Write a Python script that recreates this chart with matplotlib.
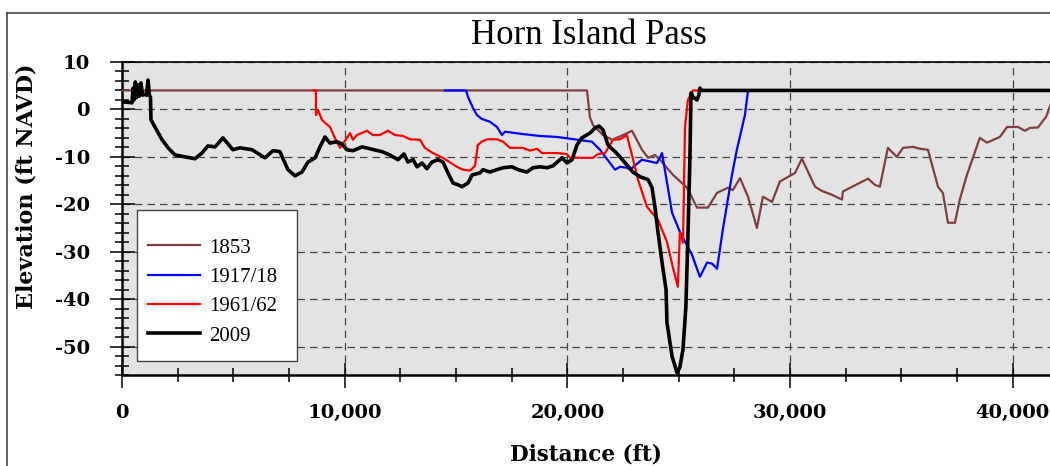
"""Horn Island Pass profile comparison, 1853 to 2009."""

import matplotlib

matplotlib.use("Agg")
import matplotlib.pyplot as plt
import numpy as np
from matplotlib.lines import Line2D
from matplotlib.patches import Rectangle
from matplotlib.ticker import FuncFormatter, MultipleLocator

# (distance ft, elevation ft NAVD)
SURVEY_1853 = [
    (0, 4), (20880, 4), (21010, -1.6), (21150, -3.3), (21600, -5.4), (22000, -6.4),
    (22500, -5.4), (22900, -4.5), (23350, -8.5), (23620, -10.2), (23930, -9.6),
    (24160, -10.6), (24740, -13.8), (25370, -16.5), (25820, -20.7), (26310, -20.7),
    (26720, -17.6), (27210, -16.5), (27430, -17), (27750, -14.5), (28110, -18.4),
    (28510, -25), (28780, -18.4), (29190, -19.5), (29540, -15.2), (30220, -13.4),
    (30530, -10.4), (31120, -16.3), (31430, -17.2), (31880, -18), (32330, -19),
    (32370, -17.3), (33500, -14.6), (33810, -15.9), (34030, -16.3), (34390, -8.1),
    (34790, -10), (35070, -8.1), (35520, -7.9), (35830, -8.3), (36190, -8.5),
    (36640, -16.3), (36860, -17.6), (37090, -23.9), (37400, -23.9), (37620, -19),
    (37940, -13.8), (38520, -6), (38840, -7), (39420, -5.8), (39740, -3.7),
    (40230, -3.7), (40540, -4.5), (40770, -3.9), (41130, -3.8), (41500, -1.5),
    (41700, 1),
]
SURVEY_1917 = [
    (14500, 4), (15450, 4), (15540, 2.6), (15760, 0.3), (15940, -1.2), (16160, -2),
    (16520, -2.6), (16840, -3.7), (17060, -5.4), (17200, -4.7), (18000, -5.2),
    (18770, -5.6), (19530, -5.8), (20470, -6.4), (21100, -6.8), (21460, -8.5),
    (22140, -12.7), (22360, -12.1), (22670, -12.3), (22810, -12.7), (23350, -10.6),
    (24020, -11.3), (24250, -9.2), (24700, -21.8), (25050, -25.8), (25590, -30.6),
    (25950, -35.3), (26270, -32.3), (26490, -32.5), (26720, -33.6), (26990, -25),
    (27390, -13.8), (27610, -8.5), (27970, -1.2), (28110, 4), (30000, 4),
]
SURVEY_1961 = [
    (8580, 4), (8710, 4), (8710, -1.2), (8800, -0.1), (8980, -2.2), (9110, -2.8),
    (9340, -3.7), (9560, -6), (9790, -8.1), (10100, -6), (10240, -5), (10370, -6.4),
    (10550, -5.4), (11000, -4.5), (11270, -5.4), (11580, -5.4), (11940, -4.5),
    (12260, -5.4), (12620, -5.6), (12930, -6.3), (13380, -6.4), (13600, -8.1),
    (13960, -9.2), (14410, -10.2), (15040, -12.1), (15310, -12.7), (15630, -12.9),
    (15850, -11.9), (15980, -7.5), (16160, -6.8), (16390, -6.3), (16840, -6.3),
    (17110, -6.8), (17420, -8.1), (18000, -8.1), (18320, -8.7), (18630, -8.3),
    (18860, -9.2), (19530, -9.2), (19980, -9.4), (20120, -10.2), (20560, -10.2),
    (21150, -10.2), (21370, -9.4), (21690, -9.2), (22050, -6.4), (22360, -6.3),
    (22670, -5.4), (22900, -9.6), (23170, -14.8), (23570, -20.5), (23800, -21.8),
    (24070, -23.3), (24470, -27.9), (24740, -33.4), (24960, -37.4), (25050, -26),
    (25190, -28.1), (25230, -17.6), (25280, -3.7), (25410, 2), (25640, 4), (27000, 4),
]
SURVEY_2009 = [
    (0, 1.6), (270, 1.5), (450, 1.4), (500, 4.5), (540, 2.0), (600, 5.8), (650, 2.5),
    (720, 5.2), (770, 2.8), (850, 5.6), (920, 3.0), (1000, 3.2), (1100, 3.0),
    (1170, 6.2), (1230, 3.0), (1280, 2.6), (1300, -2.2), (1480, -3.7), (1800, -6.4),
    (2070, -8.1), (2380, -9.6), (2830, -10.0), (3280, -10.4), (3590, -9.2),
    (3860, -7.7), (4180, -7.9), (4530, -6.0), (4980, -8.5), (5300, -8.1),
    (5840, -8.5), (6420, -10.2), (6780, -8.7), (7090, -8.9), (7450, -12.7),
    (7770, -14.0), (8080, -13.2), (8350, -11.1), (8670, -10.2), (8890, -7.9),
    (9110, -5.8), (9340, -7.1), (9650, -6.8), (9880, -7.3), (10100, -8.5),
    (10370, -8.7), (10780, -7.9), (11140, -8.3), (11670, -8.9), (12030, -9.6),
    (12390, -10.6), (12660, -9.4), (12840, -11.1), (13070, -10.6), (13250, -12.1),
    (13470, -11.3), (13690, -12.5), (13920, -11.1), (14190, -10.6), (14410, -11.1),
    (14640, -13.4), (14860, -15.5), (15090, -15.9), (15270, -16.3), (15540, -15.5),
    (15720, -13.8), (16070, -13.4), (16210, -12.7), (16520, -13.2), (16840, -12.7),
    (17110, -12.3), (17510, -12.1), (17780, -12.7), (18180, -13.2), (18450, -12.3),
    (18770, -12.1), (19080, -12.3), (19350, -11.9), (19760, -10.2), (19980, -11.3),
    (20210, -10.6), (20430, -7.5), (20650, -6.0), (21010, -5.0), (21240, -3.9),
    (21420, -3.5), (21600, -4.3), (21820, -7.5), (22140, -8.9), (22360, -10.0),
    (22670, -11.7), (22940, -13.2), (23260, -14.2), (23620, -14.8), (23800, -16.5),
    (23930, -20.5), (24070, -26.0), (24250, -32.3), (24430, -38.0), (24470, -44.9),
    (24700, -52.1), (24920, -55.5), (25050, -54.4), (25190, -50.6), (25320, -41.6),
    (25410, -26.8), (25500, -10.6), (25550, 3.5), (25640, 2.6), (25820, 2.0),
    (25900, 3.0), (25950, 4.5), (26040, 4.0), (42000, 4.0),
]

SERIES_LABELS = ["1853", "1917/18", "1961/62", "2009"]
SERIES_DATA = [SURVEY_1853, SURVEY_1917, SURVEY_1961, SURVEY_2009]
SERIES_COLOR = ["#7f3f3f", "#0000ff", "#ff0000", "#000000"]
SERIES_WIDTH = [1.6, 1.6, 1.6, 2.6]

X_MAX = 41670
Y_MIN, Y_MAX = -56, 10

plt.rcParams["axes.unicode_minus"] = False
BOLD = dict(family="DejaVu Serif", weight="bold")

fig = plt.figure(figsize=(10.5, 4.66), dpi=100)
ax = fig.add_axes([122 / 1050, 1 - 375 / 466, 1 - 122 / 1050, (375 - 62) / 466])
ax.set_facecolor("#e3e3e3")

for data, color, lw in zip(SERIES_DATA, SERIES_COLOR, SERIES_WIDTH):
    xy = np.asarray(data, dtype=float)
    ax.plot(xy[:, 0], xy[:, 1], color=color, linewidth=lw, solid_joinstyle="round", zorder=3)

ax.set_xlim(0, X_MAX)
ax.set_ylim(Y_MIN, Y_MAX)
ax.xaxis.set_major_locator(MultipleLocator(10000))
ax.xaxis.set_minor_locator(MultipleLocator(2500))
ax.yaxis.set_major_locator(MultipleLocator(10))
ax.yaxis.set_minor_locator(MultipleLocator(2))
ax.xaxis.set_major_formatter(FuncFormatter(lambda v, _: f"{int(v):,}"))
ax.yaxis.set_major_formatter(FuncFormatter(lambda v, _: f"{int(round(v))}"))

ax.grid(True, which="major", color="#444444", linestyle=(0, (6, 4)), linewidth=0.9, zorder=1)
ax.set_axisbelow(True)

ax.tick_params(which="major", direction="inout", length=18, width=1.1, color="black")
ax.tick_params(which="minor", direction="inout", length=10, width=1.1, color="black")
ax.tick_params(axis="y", which="major", pad=14)
ax.tick_params(axis="x", which="major", pad=12)
for lab in ax.get_xticklabels() + ax.get_yticklabels():
    lab.set_fontfamily("DejaVu Serif")
    lab.set_fontweight("bold")
    lab.set_fontsize(14)

for side in ("left", "bottom"):
    ax.spines[side].set_linewidth(1.8)
ax.spines["top"].set_linewidth(1.2)
ax.spines["right"].set_visible(False)

ax.set_xlabel("Distance (ft)", fontsize=15.5, **BOLD)
ax.set_ylabel("Elevation (ft NAVD)", fontsize=16, **BOLD)
ax.yaxis.set_label_coords(-(122 - 38) / 928, (375 - 186) / 313)
ax.xaxis.set_label_coords(0.5, -(444 - 375) / 313)

fig.text(589 / 1050, 1 - 36 / 466, "Horn Island Pass", ha="center", va="center",
         family="Liberation Serif", fontsize=25)

# outer frame around the figure
fig.add_artist(Line2D([7 / 1050, 1], [1 - 13 / 466] * 2, color="#444444", lw=1.2))
fig.add_artist(Line2D([7 / 1050] * 2, [0, 1 - 13 / 466], color="#444444", lw=1.2))

# legend box
box = Rectangle(((137 - 122) / 928, (375 - 361) / 313), 160 / 928, 151 / 313,
                transform=ax.transAxes, facecolor="white", edgecolor="#444444",
                linewidth=1.0, zorder=4)
ax.add_patch(box)
handles = [Line2D([0], [0], color=c, lw=w) for c, w in zip(SERIES_COLOR, SERIES_WIDTH)]
leg = ax.legend(handles, SERIES_LABELS, loc="upper left",
                bbox_to_anchor=((137 - 122) / 928 - 0.004, (375 - 239) / 313 + 0.05),
                frameon=False, prop=dict(family="Liberation Serif", size=15),
                handlelength=2.5, handletextpad=0.45, labelspacing=0.47, borderpad=0.2)
leg.set_zorder(5)

fig.savefig("out.png", dpi=100)
